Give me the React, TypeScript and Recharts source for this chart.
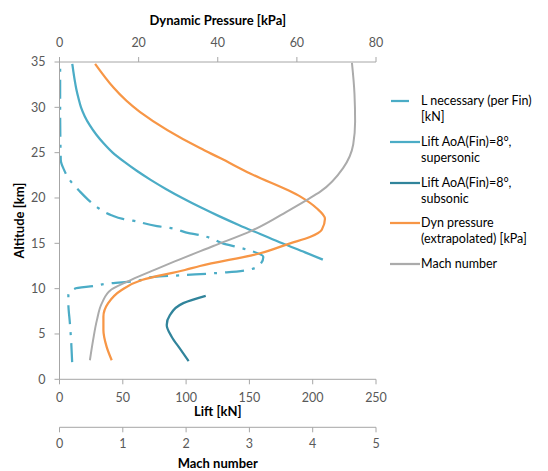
import React from "react";
import { LineChart, Line, XAxis, YAxis, Label } from "recharts";

const FONT = "Lato, 'Open Sans', sans-serif";
const AXIS = "#A6A6A6";
const TEXT = "#595959";

const altTicks = [0, 5, 10, 15, 20, 25, 30, 35];
const liftTicks = [0, 50, 100, 150, 200, 250];
const dynTicks = [0, 20, 40, 60, 80];
const machTicks = [0, 1, 2, 3, 4, 5];

// L necessary (per fin) [kN] vs altitude [km]
const lNecAlt = [1.9, 4.2, 6.2, 8.4, 9.3, 10.0, 10.3, 10.6, 10.8, 11.3, 11.5, 11.8, 12.1, 12.6, 13.5, 14.3, 14.6, 15.0, 15.6, 15.9, 16.1, 16.7, 16.9, 17.5, 17.7, 18.1, 18.9, 19.8, 20.7, 22.2, 23.1, 24.2, 30, 35];
const lNecLift = [10, 9.2, 8.2, 7.0, 7.0, 12, 27, 41, 58, 75, 99, 132, 150, 158, 161, 148, 140, 129, 119, 111, 103, 87, 77, 58, 50, 41, 30.6, 22.7, 16.2, 7.0, 3.6, 1, 0.5, 0.5];

// Lift AoA(Fin)=8°, supersonic [kN]
const supAlt = [13.2, 14, 15, 16, 17, 18, 19, 20, 21, 22, 23, 24, 25, 26, 27, 28, 29, 30, 31, 32, 33, 34, 34.8];
const supLift = [208, 194, 176, 159, 142, 126, 111, 97, 84, 72, 61, 51, 42, 35, 29, 24, 20, 17, 15, 13.3, 12, 10.9, 10.1];

// Lift AoA(Fin)=8°, subsonic [kN]
const subAlt = [2.0, 3.4, 4.7, 6.0, 7.1, 8.4, 9.2];
const subLift = [102, 95, 88.6, 84.7, 87.3, 97.8, 115.5];

// Dyn pressure (extrapolated) [kPa]
const dynAlt = [2.1, 3.6, 5.4, 6.9, 8.4, 9.85, 10.95, 12.06, 12.5, 13.9, 15.0, 15.7, 16.5, 17.7, 18.87, 20.15, 22.7, 24.4, 25.5, 29.5, 34.8];
const dynVal = [13.2, 11.9, 11.1, 11.1, 12.3, 15.7, 20.8, 31.7, 35.5, 50.7, 58.3, 63.3, 66.3, 67.1, 65.0, 60.9, 48.2, 40.6, 35.5, 20.3, 9.0];

// Mach number
const machAlt = [2.1, 4.3, 6.5, 8.4, 9.9, 11.0, 12.1, 13.0, 14.7, 16.4, 18.7, 19.8, 20.7, 23.3, 25.9, 28.4, 31.5, 34.9];
const machVal = [0.48, 0.53, 0.59, 0.67, 0.82, 1.14, 1.51, 1.82, 2.43, 3.04, 3.64, 3.91, 4.12, 4.48, 4.64, 4.67, 4.66, 4.62];

const rows = (alt: number[], val: number[]) => alt.map((a, i) => ({ alt: a, v: val[i] }));

const C_LIGHT = "#4BACC6";
const C_DARK = "#31849B";
const C_ORANGE = "#F79646";
const C_GRAY = "#ABABAB";

const tickStyle = { fontSize: 12.5, fill: TEXT, fontFamily: FONT };

const legendItems = [
  { lines: ["L necessary (per Fin)", "[kN]"], color: C_LIGHT, dash: true },
  { lines: ["Lift AoA(Fin)=8°,", "supersonic"], color: C_LIGHT },
  { lines: ["Lift AoA(Fin)=8°,", "subsonic"], color: C_DARK },
  { lines: ["Dyn pressure", "(extrapolated) [kPa]"], color: C_ORANGE },
  { lines: ["Mach number"], color: C_GRAY },
];

function title(text: string, dx: number, dy: number, rotate = false) {
  return (props: any) => {
    const vb = props.viewBox || {};
    const x = rotate ? dx : vb.x + vb.width / 2;
    const y = rotate ? vb.y + vb.height / 2 : vb.y + dy;
    return (
      <text
        x={x}
        y={y}
        textAnchor="middle"
        dominantBaseline="central"
        transform={rotate ? `rotate(-90 ${x} ${y})` : undefined}
        style={{ fontFamily: FONT, fontSize: 13, fontWeight: 700, fill: "#000" }}
      >
        {text}
      </text>
    );
  };
}

export default function App() {
  return (
    <div style={{ position: "absolute", left: 0, top: 0, width: 548, height: 471, background: "#fff" }}>
      <LineChart
        width={548}
        height={471}
        layout="vertical"
        margin={{ top: 5, right: 172, bottom: 0, left: 0 }}
      >
        <YAxis
          type="number"
          dataKey="alt"
          domain={[0, 35]}
          ticks={altTicks}
          width={59.5}
          tickSize={5}
          tickMargin={9}
          stroke={AXIS}
          tick={tickStyle}
          reversed
          allowDataOverflow
        >
          <Label content={title("Altitude [km]", 19, 0, true)} />
        </YAxis>
        <XAxis
          xAxisId="dyn"
          type="number"
          orientation="top"
          domain={[0, 80]}
          ticks={dynTicks}
          height={57}
          tickSize={5}
          tickMargin={10}
          stroke={AXIS}
          tick={tickStyle}
          allowDataOverflow
        >
          <Label content={title("Dynamic Pressure [kPa]", 0, 15)} />
        </XAxis>
        <XAxis
          xAxisId="lift"
          type="number"
          orientation="bottom"
          domain={[0, 250]}
          ticks={liftTicks}
          height={48}
          tickSize={5}
          tickMargin={9}
          stroke={AXIS}
          tick={tickStyle}
          allowDataOverflow
        >
          <Label content={title("Lift [kN]", 0, 32)} />
        </XAxis>
        <XAxis
          xAxisId="mach"
          type="number"
          orientation="bottom"
          domain={[0, 5]}
          ticks={machTicks}
          height={43.7}
          tickSize={5}
          tickMargin={7}
          stroke={AXIS}
          tick={tickStyle}
          allowDataOverflow
        >
          <Label content={title("Mach number", 0, 36)} />
        </XAxis>
        <Line
          data={rows(lNecAlt, lNecLift)}
          xAxisId="lift"
          dataKey="v"
          type="monotone"
          stroke={C_LIGHT}
          strokeWidth={2.25}
          strokeDasharray="19 8 3 8"
          dot={false}
          isAnimationActive={false}
        />
        <Line
          data={rows(supAlt, supLift)}
          xAxisId="lift"
          dataKey="v"
          type="monotone"
          stroke={C_LIGHT}
          strokeWidth={2.25}
          dot={false}
          isAnimationActive={false}
        />
        <Line
          data={rows(subAlt, subLift)}
          xAxisId="lift"
          dataKey="v"
          type="monotone"
          stroke={C_DARK}
          strokeWidth={2.25}
          dot={false}
          isAnimationActive={false}
        />
        <Line
          data={rows(dynAlt, dynVal)}
          xAxisId="dyn"
          dataKey="v"
          type="monotone"
          stroke={C_ORANGE}
          strokeWidth={2.25}
          dot={false}
          isAnimationActive={false}
        />
        <Line
          data={rows(machAlt, machVal)}
          xAxisId="mach"
          dataKey="v"
          type="monotone"
          stroke={C_GRAY}
          strokeWidth={2}
          dot={false}
          isAnimationActive={false}
        />
      </LineChart>
      <div style={{ position: "absolute", left: 390, top: 93, fontFamily: FONT, fontSize: 12.5, color: "#000" }}>
        {legendItems.map((it, i) => (
          <div key={i} style={{ display: "flex", alignItems: "flex-start", height: 40.75 }}>
            <svg width={31} height={16} style={{ flex: "none" }}>
              {it.dash ? (
                <line x1={1} y1={8} x2={19} y2={8} stroke={it.color} strokeWidth={2.25} />
              ) : (
                <line x1={0} y1={8} x2={30} y2={8} stroke={it.color} strokeWidth={2.25} />
              )}
            </svg>
            <div style={{ lineHeight: "16px" }}>
              {it.lines.map((l, j) => (
                <div key={j} style={{ whiteSpace: "nowrap" }}>{l}</div>
              ))}
            </div>
          </div>
        ))}
      </div>
    </div>
  );
}
